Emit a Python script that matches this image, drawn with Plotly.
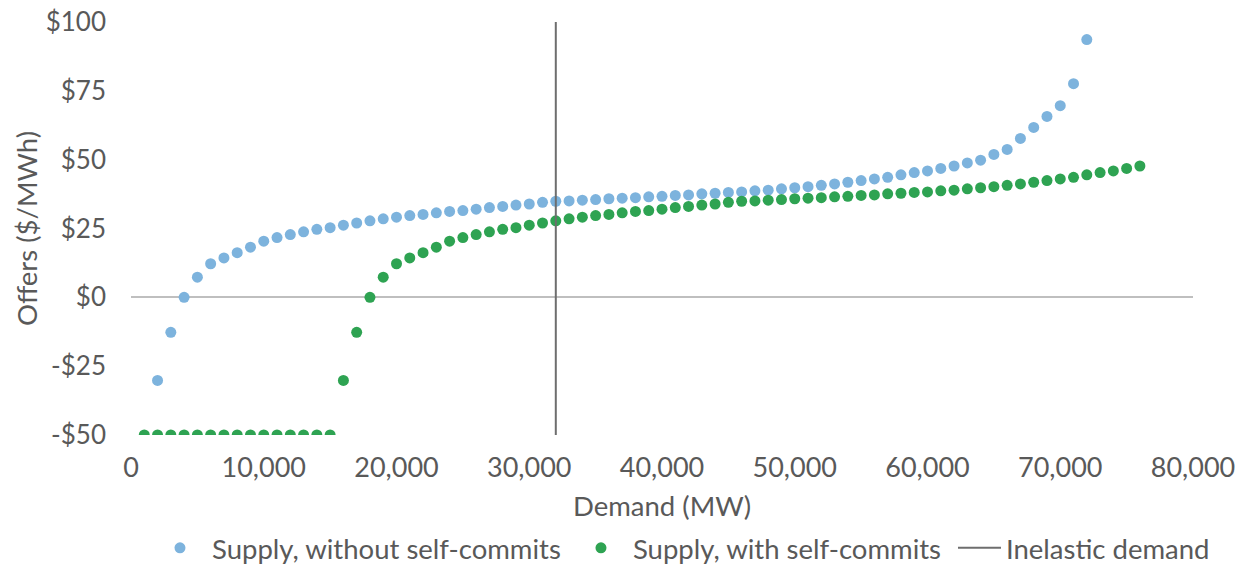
import plotly.graph_objects as go

# Demand (MW) for each offer point
blue_x = list(range(2000, 73000, 1000))
blue_y = [
    -30.2, -12.7, 0.0, 7.3, 12.2, 14.3, 16.2, 18.2, 20.4, 21.7,
    22.8, 23.8, 24.7, 25.3, 26.2, 27.0, 27.8, 28.5, 29.1, 29.7,
    30.1, 30.7, 31.2, 31.5, 32.0, 32.6, 33.0, 33.5, 33.9, 34.5,
    34.9, 35.0, 35.3, 35.5, 35.8, 36.0, 36.2, 36.5, 36.7, 37.0,
    37.2, 37.6, 37.8, 38.1, 38.3, 38.7, 38.9, 39.4, 39.8, 40.2,
    40.7, 41.2, 41.8, 42.4, 43.0, 43.6, 44.5, 45.3, 45.9, 46.8,
    47.7, 48.8, 49.8, 51.9, 53.7, 57.7, 61.7, 65.7, 69.6, 77.6,
    93.6,
]

green_x = list(range(1000, 77000, 1000))
green_y = [
    -50, -50, -50, -50, -50, -50, -50, -50, -50, -50,
    -50, -50, -50, -50, -50, -30.2, -12.7, 0.0, 7.3, 12.2,
    14.3, 16.2, 18.2, 20.4, 21.7, 22.8, 23.8, 24.7, 25.3, 26.2,
    27.0, 27.8, 28.5, 29.1, 29.7, 30.1, 30.7, 31.2, 31.5, 32.0,
    32.6, 33.0, 33.5, 33.9, 34.5, 34.9, 35.0, 35.3, 35.5, 35.8,
    36.0, 36.2, 36.5, 36.7, 37.0, 37.2, 37.6, 37.8, 38.1, 38.3,
    38.7, 38.9, 39.4, 39.8, 40.2, 40.7, 41.2, 41.8, 42.4, 43.0,
    43.6, 44.5, 45.3, 45.9, 46.8, 47.7,
]

demand_x = [32000, 32000]
demand_y = [-50, 100]

y_tickvals = [-50, -25, 0, 25, 50, 75, 100]
y_ticktext = ["-$50", "-$25", "$0", "$25", "$50", "$75", "$100"]
x_tickvals = [0, 10000, 20000, 30000, 40000, 50000, 60000, 70000, 80000]

FONT = "Lato"
GREY = "#595959"
LEG_Y = -0.2736

fig = go.Figure()
fig.add_trace(go.Scatter(
    x=blue_x, y=blue_y, mode="markers", name="Supply, without self-commits",
    marker=dict(color="#7DB3DD", size=11, line=dict(width=0)), legend="legend",
))
fig.add_trace(go.Scatter(
    x=green_x, y=green_y, mode="markers", name="Supply, with self-commits",
    marker=dict(color="#2EA352", size=11, line=dict(width=0)), legend="legend2",
))
fig.add_trace(go.Scatter(
    x=demand_x, y=demand_y, mode="lines", name="Inelastic demand",
    line=dict(color="#6E6E6E", width=2), legend="legend3",
))

leg_font = dict(family=FONT, size=27.5, color=GREY)
fig.update_layout(
    width=1245, height=565,
    margin=dict(l=131, r=52, t=22, b=130, autoexpand=False),
    paper_bgcolor="white", plot_bgcolor="white",
    font=dict(family=FONT, size=27, color=GREY),
    showlegend=True,
    legend=dict(x=0.016, xanchor="left", y=LEG_Y, yanchor="middle",
                font=leg_font, itemwidth=54, bgcolor="rgba(0,0,0,0)"),
    legend2=dict(x=0.4124, xanchor="left", y=LEG_Y, yanchor="middle",
                 font=leg_font, itemwidth=54, bgcolor="rgba(0,0,0,0)"),
    legend3=dict(x=0.774, xanchor="left", y=LEG_Y, yanchor="middle",
                 font=leg_font, itemwidth=43, bgcolor="rgba(0,0,0,0)"),
    xaxis=dict(
        range=[0, 80000], tickvals=x_tickvals, tickformat=",",
        showgrid=False, zeroline=False, showline=False, automargin=False,
        ticks="", ticklabelstandoff=14, tickfont=dict(size=27),
        title=dict(text="Demand (MW)", standoff=14, font=dict(size=27.5, color=GREY)),
    ),
    yaxis=dict(
        range=[-50, 100], tickvals=y_tickvals, ticktext=y_ticktext,
        showgrid=False, zeroline=True, zerolinecolor="#BFBFBF", zerolinewidth=2,
        showline=False, ticks="", ticklabelstandoff=24, automargin=False,
        tickfont=dict(size=26),
        title=dict(text="Offers ($/MWh)", standoff=0, font=dict(size=27.5, color=GREY)),
    ),
)

fig.write_html("out.html", config={"displayModeBar": False},
               post_script="document.body.style.margin='0';")
